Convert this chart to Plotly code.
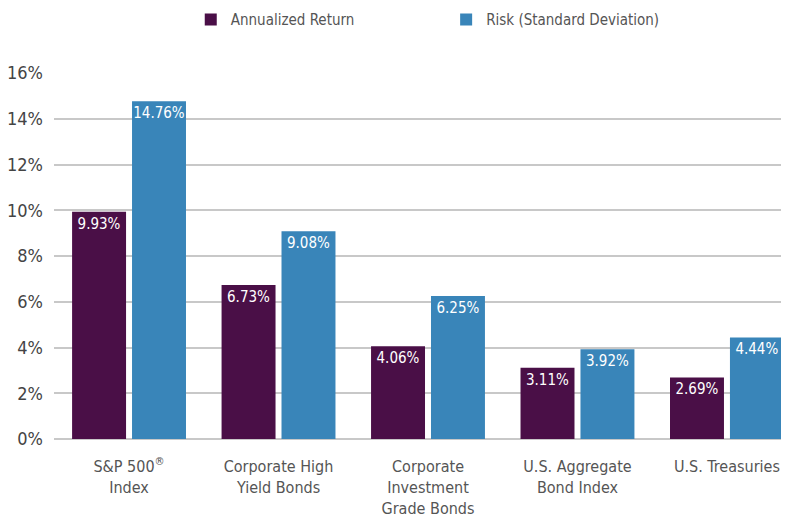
import plotly.graph_objects as go

categories = ["S&P 500<sup>®</sup><br>Index", "Corporate High<br>Yield Bonds",
              "Corporate<br>Investment<br>Grade Bonds", "U.S. Aggregate<br>Bond Index",
              "U.S. Treasuries"]
annualized_return = [9.93, 6.73, 4.06, 3.11, 2.69]
risk_std = [14.76, 9.08, 6.25, 3.92, 4.44]
y_ticks = [0, 2, 4, 6, 8, 10, 12, 14, 16]
y_tick_labels = [f"{v}%" for v in y_ticks]

FONT = "DejaVu Sans Condensed, Roboto, sans-serif"
PURPLE = "#4a0f47"
BLUE = "#3985b9"
xpos = list(range(len(categories)))

fig = go.Figure()
fig.add_trace(go.Bar(
    x=xpos, y=annualized_return, name="Annualized Return",
    marker=dict(color=PURPLE, line=dict(width=0)),
    width=0.361, offset=-0.381,
    text=[f"{v:.2f}%" for v in annualized_return],
    textposition="inside", insidetextanchor="end", textangle=0,
    insidetextfont=dict(color="white", size=15, family=FONT),
    legend="legend",
))
fig.add_trace(go.Bar(
    x=xpos, y=risk_std, name="Risk (Standard Deviation)",
    marker=dict(color=BLUE, line=dict(width=0)),
    width=0.361, offset=0.020,
    text=[f"{v:.2f}%" for v in risk_std],
    textposition="inside", insidetextanchor="end", textangle=0,
    insidetextfont=dict(color="white", size=15, family=FONT),
    legend="legend2",
))

fig.update_layout(
    width=781, height=513,
    margin=dict(l=46, r=3, t=65, b=82, autoexpand=False),
    paper_bgcolor="white", plot_bgcolor="white",
    font=dict(family=FONT, color="#555555"),
    uniformtext=dict(mode="show", minsize=15),
    legend=dict(orientation="h", x=0.234, xanchor="left", y=0.977, yanchor="middle",
                xref="container", yref="container",
                font=dict(size=15, color="#555555"), bgcolor="rgba(0,0,0,0)"),
    legend2=dict(orientation="h", x=0.561, xanchor="left", y=0.977, yanchor="middle",
                 xref="container", yref="container",
                 font=dict(size=15, color="#555555"), bgcolor="rgba(0,0,0,0)"),
    showlegend=True,
    xaxis=dict(
        range=[-0.502, 4.395], tickvals=xpos, ticktext=categories,
        showgrid=False, zeroline=False, showline=False, ticks="",
        automargin=False, ticklabelstandoff=16,
        tickfont=dict(size=16, color="#555555"),
    ),
    yaxis=dict(
        range=[0, 16], tickvals=y_ticks, ticktext=y_tick_labels,
        showgrid=True, gridcolor="#c8c8c8", gridwidth=1.5,
        zeroline=True, zerolinecolor="#c8c8c8", zerolinewidth=1.5,
        ticks="", ticklabelstandoff=10, automargin=False,
        tickfont=dict(size=18, color="#444444"),
    ),
)

fig.write_html("out.html")
